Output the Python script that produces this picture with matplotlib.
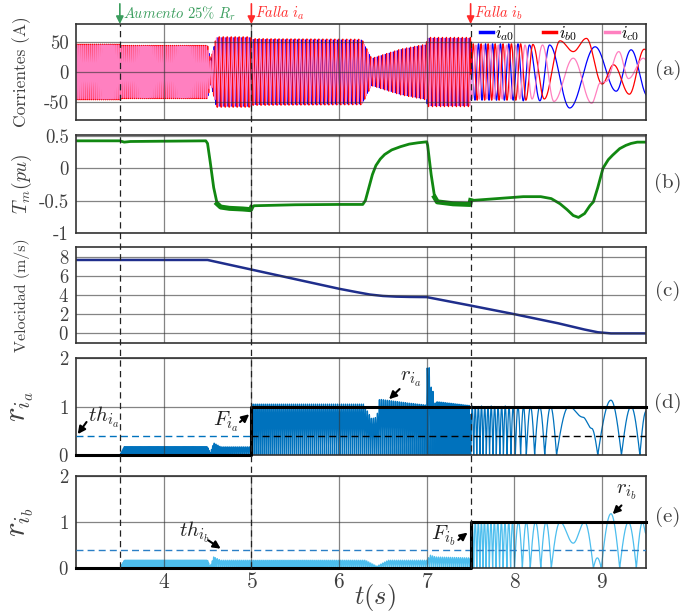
import numpy as np
import matplotlib
matplotlib.use('Agg')
import matplotlib.pyplot as plt
from matplotlib.lines import Line2D
from matplotlib import transforms

plt.rcParams['font.family'] = 'serif'
plt.rcParams['font.serif'] = ['cmr10']
plt.rcParams['mathtext.fontset'] = 'cm'
plt.rcParams['axes.unicode_minus'] = False
plt.rcParams['axes.formatter.use_mathtext'] = True

# ---- data ----
# events (s)
t_rr_step = 3.5
t_fault_a = 5.0
t_fault_b = 7.5

# (a) currents, dense part: envelope (A) and carrier frequency (Hz)
env_t = [3.0, 3.5, 3.52, 4.50, 4.535, 4.60, 4.99, 5.01, 6.26, 6.37, 6.70, 6.99, 7.01, 7.5]
env_a = [45, 45, 43, 43, 18, 57, 57, 54, 53, 22, 37, 45, 56, 56]
freq_t = [3.0, 4.5, 4.6, 7.5]
freq_hz = [45, 45, 22, 22]

# (a) currents after the second fault: peaks / troughs (t, A)
ia_t = [7.50, 7.55, 7.59, 7.63, 7.67, 7.71, 7.75, 7.795, 7.84, 7.885, 7.935, 7.985,
        8.04, 8.10, 8.17, 8.29, 8.40, 8.63, 8.92, 9.16, 9.33, 9.52]
ia_v = [45, -47, 47, -47, 47, -47, 47, -47, 47, -47, 47, -47,
        47, -48, 45, -48, 45, -60, 42, -32, 37, -40]
ib_t = [7.50, 7.53, 7.575, 7.62, 7.66, 7.70, 7.74, 7.78, 7.825, 7.87, 7.915, 7.965,
        8.015, 8.07, 8.13, 8.21, 8.34, 8.52, 8.67, 8.82, 9.00, 9.13, 9.31, 9.48, 9.52]
ib_v = [-10, 47, -47, 47, -47, 47, -47, 47, -47, 47, -47, 47,
        -47, 47, -47, 46, -45, 52, 34, 56, -20, 12, -37, 38, 35]
ic_t = [7.50, 7.515, 7.56, 7.60, 7.645, 7.685, 7.725, 7.77, 7.815, 7.86, 7.91, 7.96,
        8.01, 8.06, 8.12, 8.20, 8.32, 8.45, 8.67, 8.88, 8.98, 9.04, 9.19, 9.30, 9.47, 9.52]
ic_v = [-30, -45, 45, -45, 45, -45, 45, -45, 45, -45, 45, -45,
        45, -45, 45, -45, 45, -49, 23, -52, -18, -16, 34, -11, 23, 18]

# (b) mechanical torque (pu)
tm_t = [3.0, 3.5, 3.55, 3.62, 4.48, 4.50, 4.53, 4.57, 4.61, 4.65, 4.75, 4.9, 4.99, 5.0,
        5.03, 5.5, 6.0, 6.27, 6.30, 6.34, 6.38, 6.42, 6.47, 6.52, 6.6, 6.7, 6.8, 6.9,
        7.0, 7.01, 7.05, 7.09, 7.12, 7.3, 7.49, 7.5, 7.8, 8.1, 8.3, 8.42, 8.52, 8.6,
        8.67, 8.73, 8.8, 8.86, 8.9, 8.95, 9.01, 9.07, 9.12, 9.2, 9.27, 9.33, 9.4, 9.5]
tm_v = [0.42, 0.42, 0.40, 0.41, 0.42, 0.38, 0.1, -0.3, -0.55, -0.6, -0.62, -0.63, -0.64, -0.61,
        -0.58, -0.565, -0.56, -0.56, -0.5, -0.3, -0.1, 0.04, 0.14, 0.21, 0.28, 0.33, 0.37, 0.39,
        0.405, 0.35, -0.1, -0.45, -0.52, -0.55, -0.56, -0.5, -0.47, -0.44, -0.44, -0.47, -0.55, -0.64,
        -0.73, -0.76, -0.7, -0.58, -0.52, -0.3, 0.0, 0.13, 0.2, 0.3, 0.35, 0.38, 0.40, 0.40]

# (c) wind speed (m/s)
vel_t = [3.0, 4.5, 5.0, 5.5, 6.0, 6.2, 6.35, 6.5, 6.65, 6.8, 7.0, 7.5, 8.0, 8.5, 8.8, 8.95, 9.1, 9.5]
vel_v = [7.65, 7.65, 6.65, 5.65, 4.65, 4.3, 4.05, 3.9, 3.83, 3.8, 3.78, 2.9, 2.0, 1.05, 0.4, 0.12, 0.0, 0.0]

# (d) r_ia: dense envelope before 7.5 s, then arches (t, value)
ra_env_t = [3.0, 3.5, 3.55, 4.50, 4.53, 4.57, 4.65, 4.99, 5.0, 6.28, 6.37, 6.43, 6.46, 6.8,
            7.0, 7.005, 7.03, 7.035, 7.045, 7.07, 7.075, 7.12, 7.5]
ra_env_v = [0, 0, 0.17, 0.17, 0.04, 0.25, 0.17, 0.17, 1.05, 1.05, 0.75, 0.78, 1.15, 1.07,
            1.03, 1.8, 1.8, 1.05, 1.4, 1.4, 1.05, 1.1, 1.02]
ria_t = [7.500, 7.518, 7.535, 7.553, 7.570, 7.588, 7.606, 7.624, 7.642, 7.661, 7.679, 7.698,
         7.716, 7.735, 7.754, 7.774, 7.793, 7.813, 7.833, 7.854, 7.874, 7.895, 7.916, 7.938,
         7.960, 7.985, 8.010, 8.040, 8.070, 8.103, 8.135, 8.183, 8.230, 8.288, 8.345, 8.412,
         8.480, 8.620, 8.780, 8.880, 8.950, 9.100, 9.220, 9.330, 9.430, 9.500]
ria_v = [0, 1.01, 0, 0.99, 0, 1.0, 0, 1.01, 0, 0.99, 0, 1.0,
         0, 1.01, 0, 1.0, 0, 0.99, 0, 1.0, 0, 1.01, 0, 1.0,
         0, 0.99, 0, 1.0, 0, 1.0, 0, 1.0, 0, 1.0, 0, 1.0,
         0, 1.0, 0.78, 0.55, 0, 1.13, 0, 1.0, 0, 0.9]
th_a = 0.39

# (e) r_ib
rb_env_t = [3.0, 3.5, 3.55, 4.50, 4.53, 4.57, 4.65, 6.30, 6.43, 6.56, 7.0, 7.04, 7.1, 7.5]
rb_env_v = [0, 0, 0.17, 0.17, 0.03, 0.24, 0.17, 0.17, 0.04, 0.17, 0.17, 0.28, 0.24, 0.22]
rib_t = [7.500, 7.518, 7.535, 7.553, 7.570, 7.588, 7.605, 7.623, 7.640, 7.658, 7.676, 7.695,
         7.713, 7.732, 7.751, 7.771, 7.790, 7.810, 7.830, 7.851, 7.871, 7.892, 7.913, 7.935,
         7.956, 7.978, 8.000, 8.045, 8.090, 8.135, 8.180, 8.240, 8.300, 8.360, 8.420,
         8.520, 8.670, 8.800, 8.900, 8.945, 8.990, 9.100, 9.200, 9.300, 9.390, 9.460, 9.500]
rib_v = [0, 1.0, 0, 1.01, 0, 0.99, 0, 1.0, 0, 1.01, 0, 1.0,
         0, 0.99, 0, 1.0, 0, 1.01, 0, 1.0, 0, 0.99, 0, 1.0,
         0, 1.0, 0, 1.0, 0, 1.0, 0, 1.0, 0, 1.0, 0,
         1.0, 0.54, 1.0, 0, 0.22, 0, 1.18, 0, 1.0, 0, 1.0, 0.75]
th_b = 0.40


def knot_curve(t, kt, kv, cusp=False):
    """Smooth curve through peaks/troughs; with cusp=True zero knots are sharp."""
    kt = np.asarray(kt, float)
    kv = np.asarray(kv, float)
    i = np.clip(np.searchsorted(kt, t, side='right') - 1, 0, len(kt) - 2)
    s = np.clip((t - kt[i]) / (kt[i + 1] - kt[i]), 0, 1)
    v0, v1 = kv[i], kv[i + 1]
    w = (1 - np.cos(np.pi * s)) / 2
    if cusp:
        z0, z1 = v0 == 0, v1 == 0
        w = np.where(z0 & ~z1, np.sin(np.pi / 2 * s), w)
        w = np.where(~z0 & z1, 1 - np.cos(np.pi / 2 * s), w)
        w = np.where(z0 & z1, s, w)
    return v0 + (v1 - v0) * w


# dense part (before the second fault)
t_d = np.linspace(3.0, 7.5, 45001)[:-1]
dt = t_d[1] - t_d[0]
theta = 2 * np.pi * np.cumsum(np.interp(t_d, freq_t, freq_hz)) * dt
amp = np.interp(t_d, env_t, env_a)
shift = 2 * np.pi / 3
t_s = np.linspace(7.5, 9.5, 6000)
t_all = np.concatenate([t_d, t_s])

ia = np.concatenate([amp * np.sin(theta), knot_curve(t_s, ia_t, ia_v)])
ib = np.concatenate([1.03 * amp * np.sin(theta - shift), knot_curve(t_s, ib_t, ib_v)])
ic = np.concatenate([amp * np.sin(theta + shift), knot_curve(t_s, ic_t, ic_v)])
r_a = np.concatenate([np.interp(t_d, ra_env_t, ra_env_v) * np.abs(np.sin(theta)),
                      knot_curve(t_s, ria_t, ria_v, cusp=True)])
r_b = np.concatenate([np.interp(t_d, rb_env_t, rb_env_v) * np.abs(np.sin(theta - shift)),
                      knot_curve(t_s, rib_t, rib_v, cusp=True)])

# ---- figure ----
W, H = 694, 615
fig = plt.figure(figsize=(W / 100, H / 100), dpi=100)


def px_axes(top, bottom):
    return fig.add_axes([76 / W, 1 - bottom / H, (646 - 76) / W, (bottom - top) / H])


ax_a = px_axes(24, 120)
ax_b = px_axes(135, 233)
ax_c = px_axes(247, 343)
ax_d = px_axes(358, 455)
ax_e = px_axes(476, 568)
axes = [ax_a, ax_b, ax_c, ax_d, ax_e]

txt = '#404040'
for ax in axes:
    ax.set_xlim(3, 9.5)
    ax.set_xticks(range(4, 10))
    ax.grid(True, color='#333333', lw=0.9, alpha=0.6)
    ax.set_axisbelow(False)
    for s in ax.spines.values():
        s.set_color('#333333')
        s.set_linewidth(1.2)
    ax.tick_params(length=0, colors=txt, labelsize=13.5, pad=5)
    ax.tick_params(axis='x', labelbottom=False)
ax_e.tick_params(axis='x', labelbottom=True, labelsize=15.5, pad=3)

# (a)
ax_a.plot(t_all, ia, color='#0000ff', lw=0.9)
ax_a.plot(t_all, ib, color='#ff0000', lw=0.9)
ax_a.plot(t_all, ic, color='#ff80c0', lw=0.9)
ax_a.set_ylim(-80, 80)
ax_a.set_yticks([-50, 0, 50])
ax_a.set_yticklabels(['-50', '0', '50'])
ax_a.set_ylabel('Corrientes (A)', fontsize=12.5, color=txt, va='center')
handles = [Line2D([], [], color=c, lw=2.5) for c in ['#0000ff', '#ff0000', '#ff80c0']]
ax_a.legend(handles, [r'$i_{a0}$', r'$i_{b0}$', r'$i_{c0}$'], ncol=3, loc='upper right',
            bbox_to_anchor=(1.0, 1.07), frameon=False, handlelength=0.8, handletextpad=0.15,
            columnspacing=1.7, fontsize=12, borderaxespad=0)

# (b)
ax_b.plot(tm_t, tm_v, color='#118811', lw=2.0)
for lo, hi in [(4.61, 5.0), (7.09, 7.5)]:
    sel = [(a, b) for a, b in zip(tm_t, tm_v) if lo <= a <= hi]
    ax_b.plot([p[0] for p in sel], [p[1] for p in sel], color='#118811', lw=3.6)
ax_b.set_ylim(-1.0, 0.51)
ax_b.set_yticks([-1, -0.5, 0, 0.5])
ax_b.set_yticklabels(['-1', '-0.5', '0', '0.5'])
ax_b.set_ylabel(r'$T_m(pu)$', fontsize=14, color=txt, va='center')

# (c)
ax_c.plot(vel_t, vel_v, color='#1f2e8c', lw=1.8)
ax_c.set_ylim(-1, 9)
ax_c.set_yticks([0, 2, 4, 6, 8])
ax_c.set_ylabel('Velocidad (m/s)', fontsize=11.5, color=txt, va='center')

# (d)
ax_d.plot(t_all, r_a, color='#0072BD', lw=0.9)
ax_d.plot([3, t_fault_a], [th_a, th_a], color='#0072BD', lw=1.0, ls=(0, (5, 3)), zorder=3)
ax_d.plot([t_fault_a, 9.5], [th_a, th_a], color='k', lw=1.0, ls=(0, (5, 3)), zorder=3)
ax_d.plot([3, t_fault_a, t_fault_a, 9.5], [0, 0, 1, 1], color='k', lw=2.2, zorder=4, clip_on=False)
ax_d.set_ylim(0, 2)
ax_d.set_yticks([0, 1, 2])
ax_d.set_ylabel(r'$r_{i_a}$', fontsize=22, color=txt, va='center')

# (e)
ax_e.plot(t_all, r_b, color='#4DBEEE', lw=0.9)
ax_e.plot([3, 9.5], [th_b, th_b], color='#2a7fc6', lw=1.0, ls=(0, (5, 3)), zorder=3)
ax_e.plot([3, t_fault_b, t_fault_b, 9.5], [0, 0, 1, 1], color='k', lw=2.2, zorder=4, clip_on=False)
ax_e.set_ylim(0, 2)
ax_e.set_yticks([0, 1, 2])
ax_e.set_ylabel(r'$r_{i_b}$', fontsize=22, color=txt, va='center')
ax_e.set_xlabel(r'$t(s)$', fontsize=19, color=txt, va='center')
ax_e.xaxis.set_label_coords(0.525, -0.32)

for ax in axes:
    ax.yaxis.set_label_coords(-0.095, 0.5)

# arrows with labels inside panels: (axes, label, text pos, arrow tail, arrow head, ha)
notes = [
    (ax_d, r'$th_{i_a}$', (3.14, 0.78), (3.12, 0.68), (3.02, 0.43), 'left'),
    (ax_d, r'$F_{i_a}$', (4.85, 0.68), (4.87, 0.68), (4.975, 0.84), 'right'),
    (ax_d, r'$r_{i_a}$', (6.70, 1.55), (6.69, 1.36), (6.57, 1.15), 'left'),
    (ax_e, r'$th_{i_b}$', (4.17, 0.78), (4.51, 0.60), (4.65, 0.42), 'left'),
    (ax_e, r'$F_{i_b}$', (7.33, 0.70), (7.36, 0.61), (7.465, 0.77), 'right'),
    (ax_e, r'$r_{i_b}$', (9.16, 1.64), (9.22, 1.36), (9.12, 1.17), 'left'),
]
for ax, label, tpos, tail, head, ha in notes:
    ax.annotate('', xy=head, xytext=tail, zorder=5,
                arrowprops=dict(arrowstyle='-|>', color='k', lw=1.5, mutation_scale=11,
                                shrinkA=0, shrinkB=0))
    ax.text(tpos[0], tpos[1], label, fontsize=15, color='#222222', ha=ha, va='center', zorder=5)

# event markers on top of panel (a)
events = [
    (t_rr_step, r'$\mathit{Aumento}\ 25\%\ R_r$', '#3a9d5d'),
    (t_fault_a, r'$\mathit{Falla}\ i_a$', '#ff2a2a'),
    (t_fault_b, r'$\mathit{Falla}\ i_b$', '#ff2a2a'),
]
top_tr = transforms.blended_transform_factory(ax_a.transData, ax_a.transAxes)
for t_ev, label, col in events:
    ax_a.annotate('', xy=(t_ev, 1.0), xytext=(t_ev, 1.21),
                  xycoords=('data', 'axes fraction'), textcoords=('data', 'axes fraction'),
                  arrowprops=dict(arrowstyle='-|>', color=col, lw=1.2, mutation_scale=11,
                                  shrinkA=0, shrinkB=0), annotation_clip=False)
    ax_a.text(t_ev + 0.04, 1.11, label, transform=top_tr, color=col, fontsize=10.5,
              ha='left', va='center')

# dashed event lines across all panels
blend = transforms.blended_transform_factory(ax_e.transData, fig.transFigure)
for t_ev in [t_rr_step, t_fault_a, t_fault_b]:
    fig.add_artist(Line2D([t_ev, t_ev], [1 - 568 / H, 1 - 24 / H], transform=blend,
                          color='#222222', lw=0.9, ls=(0, (5, 3.5))))

# panel tags
for tag, ypx in zip(['(a)', '(b)', '(c)', '(d)', '(e)'], [70, 183, 291, 403, 517]):
    fig.text(668 / W, 1 - ypx / H, tag, fontsize=15, color=txt, ha='center', va='center')

fig.savefig('out.png', dpi=100)
